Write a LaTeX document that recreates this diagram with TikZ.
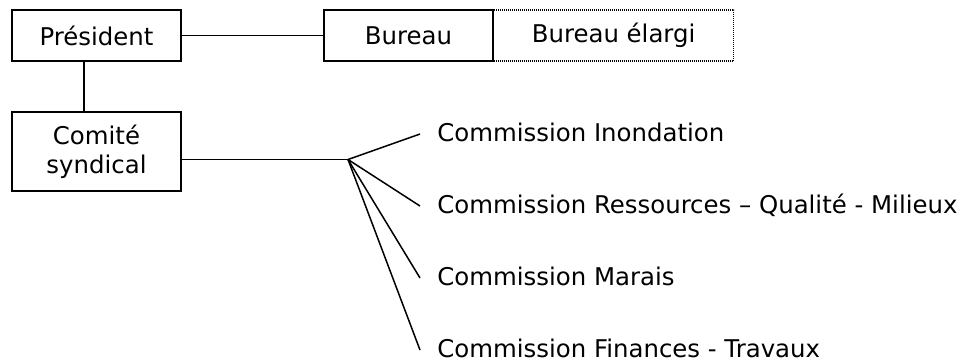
\documentclass[tikz,border=0pt]{standalone}
\usepackage{fontspec}
\setmainfont{DejaVu Sans}
\usepackage{tikz}
\usetikzlibrary{positioning}
\tikzstyle{box} = [rectangle, minimum width=84.5pt, minimum height=25.5pt, text centered, align=center, draw=black, line width=0.75pt, inner sep=0pt]
\tikzstyle{dotbox} = [rectangle, minimum width=120pt, minimum height=25.5pt, text centered, draw=black, line width=0.6pt, dash pattern=on 0.5pt off 0.5pt, inner sep=0pt]
\tikzstyle{commission} = [anchor=west, inner xsep=8.5pt, inner ysep=0pt, text height=0.73em, text depth=0pt]
\tikzstyle{line} = [line width=0.75pt]

\begin{document}
\begin{tikzpicture}[x=0.5pt, y=-0.5pt, node distance=58pt, font=\fontsize{12.2}{14.5}\selectfont]
        \useasboundingbox (0,0) rectangle (961,361);
        % Nodes
        \node (president) [box] at (96.5,35.5) {Président};
        \node (comite) [box, minimum height=39.5pt, below of=president] {Comité\\syndical};
        \node (elargi) [dotbox, right=0pt of {(493,35.5)}, anchor=west] {Bureau élargi};
        \node (bureau) [box] at (408.5,35.5) {Bureau};
        \coordinate (fan) at (348,159.5);
        \node (inondation) [commission] at (420,134) {Commission Inondation};
        \node (ressources) [commission] at (420,206) {Commission Ressources – Qualité - Milieux};
        \node (marais) [commission] at (420,278) {Commission Marais};
        \node (finances) [commission] at (420,350) {Commission Finances - Travaux};

        % Lines
        \draw [line] (president) -- (bureau);
        \draw [line] ([xshift=-6.25pt]president.south) -- ([xshift=-6.25pt]comite.north);
        \draw [line] (comite.east |- fan) -- (fan);
        \foreach \c in {inondation, ressources, marais, finances}
                \draw [line] (fan) -- (\c.west);
    \end{tikzpicture}
\end{document}
